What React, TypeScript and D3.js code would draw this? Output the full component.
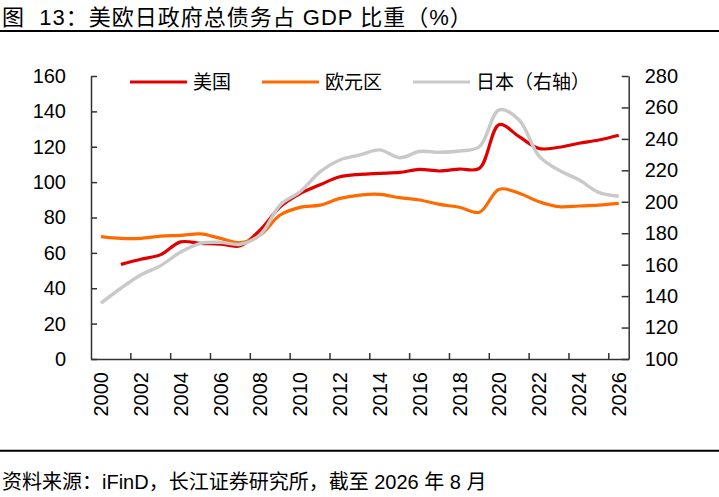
import { useEffect, useRef } from 'react';
import * as d3 from 'd3';

const years = d3.range(2000, 2027);
const evenYears = years.filter(y => y % 2 === 0);

// 美国（左轴）
const usDebt: (number | null)[] = [
  null, 53.5, 56.4, 59, 66.2, 65.4, 65, 64, 73, 86, 93.5, 98.5, 103, 104.4, 105,
  105.5, 107.2, 106.3, 107.4, 107.8, 132.5, 125.7, 119, 119.7, 122, 123.8, 126.5,
];
// 欧元区（左轴）
const euroDebt: number[] = [
  69.2, 68.2, 68.2, 69.5, 69.9, 70.7, 68.2, 65.8, 70.1, 81.4, 85.7, 87, 90.8, 92.7, 93.1,
  91.2, 89.9, 87.4, 85.8, 83, 96, 93.7, 88.9, 86.1, 86.5, 87, 88,
];
// 日本（右轴）
const japanDebt: number[] = [
  135.5, 145, 153.4, 159.4, 168, 173.6, 174.2, 173, 179, 198, 206.4, 219, 226.6, 229.8, 233,
  228, 232, 231.5, 232.3, 235, 258.5, 252, 229, 220, 214, 206, 203.5,
];

const leftTicks = d3.range(0, 161, 20);
const rightTicks = d3.range(100, 281, 20);

const seriesNames = ['美国', '欧元区', '日本（右轴）'];
const seriesColors = ['#E00000', '#FF6A00', '#C9C9C9'];

const FONT = '"Liberation Sans", Arial, "Noto Sans CJK SC", sans-serif';
const AXIS_COLOR = '#333333';

export default function App() {
  const svgRef = useRef<SVGSVGElement>(null);
  const width = 719;
  const height = 497;

  useEffect(() => {
    if (!svgRef.current) return;
    const svg = d3.select(svgRef.current);
    svg.selectAll('*').remove();

    const left = 91;
    const right = 628.7;
    const top = 76;
    const bottom = 359;

    const x = d3.scaleBand<string>()
      .domain(years.map(String))
      .range([left, right]);
    const cx = (i: number) => (x(String(years[i])) ?? 0) + x.bandwidth() / 2;

    const yLeft = d3.scaleLinear().domain([0, 160]).range([bottom, top]);
    const yRight = d3.scaleLinear().domain([100, 280]).range([bottom, top]);

    // title + rules
    svg.append('text')
      .attr('x', 2)
      .attr('y', 25)
      .attr('font-family', FONT)
      .attr('font-size', '22px')
      .attr('letter-spacing', '1px')
      .attr('fill', '#000')
      .text('图\u00A0 13：美欧日政府总债务占 GDP 比重（%）');

    svg.append('line')
      .attr('x1', 0).attr('x2', width)
      .attr('y1', 31).attr('y2', 31)
      .attr('stroke', '#000').attr('stroke-width', 2);

    svg.append('line')
      .attr('x1', 0).attr('x2', width)
      .attr('y1', 450.7).attr('y2', 450.7)
      .attr('stroke', '#000').attr('stroke-width', 2);

    svg.append('text')
      .attr('x', 2)
      .attr('y', 489)
      .attr('font-family', FONT)
      .attr('font-size', '20px')
      .attr('fill', '#000')
      .text('资料来源：iFinD，长江证券研究所，截至 2026 年 8 月');

    // left axis
    const gLeft = svg.append('g')
      .attr('transform', `translate(${left},0)`)
      .call(d3.axisLeft(yLeft).tickValues(leftTicks).tickSizeInner(-6).tickSizeOuter(0).tickPadding(25));
    gLeft.select('.domain').attr('stroke', AXIS_COLOR).attr('stroke-width', 1.5);
    gLeft.selectAll('.tick line').attr('stroke', AXIS_COLOR).attr('stroke-width', 1.5);
    gLeft.selectAll('text')
      .attr('font-family', FONT)
      .attr('font-size', '20px')
      .attr('fill', '#000');

    // right axis
    const gRight = svg.append('g')
      .attr('transform', `translate(${right},0)`)
      .call(d3.axisRight(yRight).tickValues(rightTicks).tickSizeInner(-7).tickSizeOuter(0).tickPadding(16));
    gRight.select('.domain').attr('stroke', AXIS_COLOR).attr('stroke-width', 1.5);
    gRight.selectAll('.tick line').attr('stroke', AXIS_COLOR).attr('stroke-width', 1.5);
    gRight.selectAll('text')
      .attr('font-family', FONT)
      .attr('font-size', '20px')
      .attr('fill', '#000');

    // bottom axis: labels centred in bands, ticks on band edges every 2 years
    const gBottom = svg.append('g')
      .attr('transform', `translate(0,${bottom})`)
      .call(d3.axisBottom(x).tickValues(evenYears.map(String)).tickSize(0).tickSizeOuter(0));
    gBottom.select('.domain').attr('stroke', AXIS_COLOR).attr('stroke-width', 1.5);
    gBottom.selectAll('text')
      .attr('font-family', FONT)
      .attr('font-size', '20px')
      .attr('fill', '#000')
      .attr('transform', 'rotate(-90)')
      .attr('text-anchor', 'end')
      .attr('x', -13)
      .attr('y', 0)
      .attr('dy', '0.36em');

    gBottom.selectAll('.edge-tick')
      .data(evenYears.slice(1))
      .enter()
      .append('line')
      .attr('class', 'edge-tick')
      .attr('x1', d => x(String(d)) ?? 0)
      .attr('x2', d => x(String(d)) ?? 0)
      .attr('y1', 0)
      .attr('y2', -6)
      .attr('stroke', AXIS_COLOR)
      .attr('stroke-width', 1.5);

    // lines
    const lineLeft = d3.line<number | null>()
      .defined(d => d !== null)
      .x((_, i) => cx(i))
      .y(d => yLeft(d as number))
      .curve(d3.curveCatmullRom.alpha(0.5));

    const lineRight = d3.line<number>()
      .x((_, i) => cx(i))
      .y(d => yRight(d))
      .curve(d3.curveCatmullRom.alpha(0.5));

    svg.append('path')
      .attr('d', lineLeft(usDebt))
      .attr('fill', 'none')
      .attr('stroke', seriesColors[0])
      .attr('stroke-width', 3.2);

    svg.append('path')
      .attr('d', lineLeft(euroDebt))
      .attr('fill', 'none')
      .attr('stroke', seriesColors[1])
      .attr('stroke-width', 3.2);

    svg.append('path')
      .attr('d', lineRight(japanDebt))
      .attr('fill', 'none')
      .attr('stroke', seriesColors[2])
      .attr('stroke-width', 3.4);

    // legend
    const legendX = [130, 262, 413];
    const legendY = 82;
    seriesNames.forEach((name, i) => {
      svg.append('line')
        .attr('x1', legendX[i])
        .attr('x2', legendX[i] + 57)
        .attr('y1', legendY)
        .attr('y2', legendY)
        .attr('stroke', seriesColors[i])
        .attr('stroke-width', 3.2);
      svg.append('text')
        .attr('x', legendX[i] + 63)
        .attr('y', legendY)
        .attr('dominant-baseline', 'central')
        .attr('font-family', FONT)
        .attr('font-size', '19px')
        .attr('fill', '#000')
        .text(name);
    });
  }, []);

  return (
    <svg
      ref={svgRef}
      width={width}
      height={height}
      style={{ position: 'absolute', left: 0, top: 0, background: '#fff' }}
    />
  );
}
